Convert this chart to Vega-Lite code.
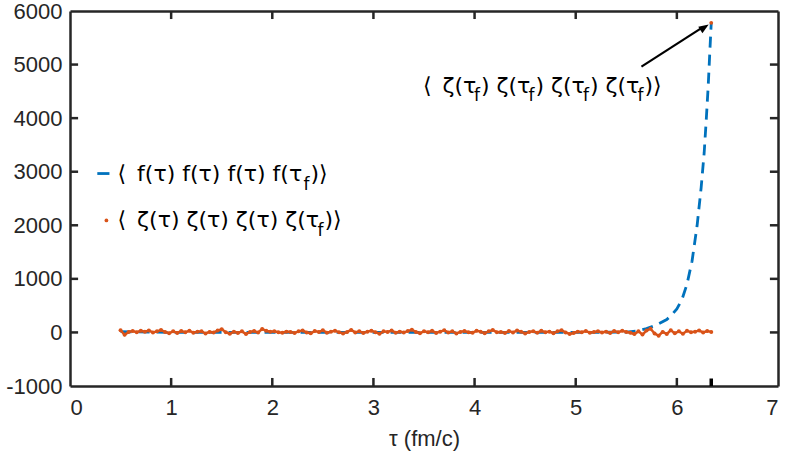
{
  "$schema": "https://vega.github.io/schema/vega-lite/v6.json",
  "width": 708,
  "height": 375,
  "autosize": {"type": "none"},
  "padding": {"left": 70, "top": 11, "right": 11, "bottom": 67},
  "background": "white",
  "config": {
    "view": {"stroke": null},
    "font": "Liberation Sans",
    "text": {"font": "DejaVu Sans", "fontSize": 22, "color": "black", "align": "left", "baseline": "middle"},
    "rule": {"color": "#262626", "strokeWidth": 2.5},
    "axis": {
      "grid": false,
      "domainColor": "#262626",
      "domainWidth": 2.5,
      "ticks": false,
      "tickSize": 0,
      "labelFont": "Liberation Sans",
      "labelFontSize": 22,
      "labelColor": "#262626",
      "labelExpr": "'' + datum.value",
      "titleFont": "Liberation Sans",
      "titleFontSize": 22,
      "titleFontWeight": "normal",
      "titleColor": "#262626"
    }
  },
  "datasets": {
    "fcorr": [
      {"t": 0.5, "v": 15}, {"t": 1.0, "v": 0}, {"t": 2.0, "v": 0}, {"t": 3.0, "v": 0},
      {"t": 4.0, "v": 0}, {"t": 5.0, "v": 0}, {"t": 5.5, "v": 5}, {"t": 5.6, "v": 25},
      {"t": 5.7, "v": 70}, {"t": 5.8, "v": 140}, {"t": 5.9, "v": 240}, {"t": 5.95, "v": 330},
      {"t": 6.0, "v": 440}, {"t": 6.05, "v": 610}, {"t": 6.1, "v": 900}, {"t": 6.15, "v": 1330},
      {"t": 6.2, "v": 1990}, {"t": 6.24, "v": 2700}, {"t": 6.27, "v": 3350}, {"t": 6.29, "v": 3950},
      {"t": 6.31, "v": 4600}, {"t": 6.325, "v": 5200}, {"t": 6.34, "v": 5780}
    ],
    "zeta": [
      {"t": 0.50, "v": 40}, {"t": 0.54, "v": -45}, {"t": 0.58, "v": 10}, {"t": 0.62, "v": 25},
      {"t": 0.66, "v": 5}, {"t": 0.70, "v": 30}, {"t": 0.74, "v": 15}, {"t": 0.78, "v": 35},
      {"t": 0.82, "v": 0}, {"t": 0.86, "v": 20}, {"t": 0.90, "v": 45}, {"t": 0.94, "v": 10},
      {"t": 0.98, "v": -15}, {"t": 1.02, "v": 20}, {"t": 1.06, "v": -10}, {"t": 1.10, "v": 25},
      {"t": 1.14, "v": 5}, {"t": 1.18, "v": 30}, {"t": 1.22, "v": -5}, {"t": 1.26, "v": 15},
      {"t": 1.30, "v": 20}, {"t": 1.34, "v": -20}, {"t": 1.38, "v": 10}, {"t": 1.42, "v": 0},
      {"t": 1.46, "v": 35}, {"t": 1.50, "v": 60}, {"t": 1.54, "v": 5}, {"t": 1.58, "v": -25},
      {"t": 1.62, "v": 15}, {"t": 1.66, "v": -10}, {"t": 1.70, "v": 20}, {"t": 1.74, "v": -30},
      {"t": 1.78, "v": 10}, {"t": 1.82, "v": 25}, {"t": 1.86, "v": 0}, {"t": 1.90, "v": 65},
      {"t": 1.94, "v": 30}, {"t": 1.98, "v": 15}, {"t": 2.02, "v": 20}, {"t": 2.06, "v": 5},
      {"t": 2.10, "v": -5}, {"t": 2.14, "v": 15}, {"t": 2.18, "v": 10}, {"t": 2.22, "v": -10},
      {"t": 2.26, "v": 20}, {"t": 2.30, "v": 35}, {"t": 2.34, "v": 0}, {"t": 2.38, "v": -15},
      {"t": 2.42, "v": 25}, {"t": 2.46, "v": 10}, {"t": 2.50, "v": 40}, {"t": 2.54, "v": -5},
      {"t": 2.58, "v": 15}, {"t": 2.62, "v": 30}, {"t": 2.66, "v": 5}, {"t": 2.70, "v": -20},
      {"t": 2.74, "v": 10}, {"t": 2.78, "v": 45}, {"t": 2.82, "v": 0}, {"t": 2.86, "v": 20},
      {"t": 2.90, "v": -10}, {"t": 2.94, "v": 15}, {"t": 2.98, "v": 30}, {"t": 3.02, "v": 5},
      {"t": 3.06, "v": -25}, {"t": 3.10, "v": 20}, {"t": 3.14, "v": 10}, {"t": 3.18, "v": 35},
      {"t": 3.22, "v": -5}, {"t": 3.26, "v": 15}, {"t": 3.30, "v": 0}, {"t": 3.34, "v": 25},
      {"t": 3.38, "v": 50}, {"t": 3.42, "v": 10}, {"t": 3.46, "v": -15}, {"t": 3.50, "v": 20},
      {"t": 3.54, "v": 5}, {"t": 3.58, "v": 30}, {"t": 3.62, "v": -10}, {"t": 3.66, "v": 15},
      {"t": 3.70, "v": 40}, {"t": 3.74, "v": 0}, {"t": 3.78, "v": 20}, {"t": 3.82, "v": -20},
      {"t": 3.86, "v": 10}, {"t": 3.90, "v": 25}, {"t": 3.94, "v": 5}, {"t": 3.98, "v": -5},
      {"t": 4.02, "v": 30}, {"t": 4.06, "v": 15}, {"t": 4.10, "v": -15}, {"t": 4.14, "v": 20},
      {"t": 4.18, "v": 45}, {"t": 4.22, "v": 5}, {"t": 4.26, "v": 10}, {"t": 4.30, "v": -10},
      {"t": 4.34, "v": 25}, {"t": 4.38, "v": 0}, {"t": 4.42, "v": 35}, {"t": 4.46, "v": 15},
      {"t": 4.50, "v": -20}, {"t": 4.54, "v": 10}, {"t": 4.58, "v": 20}, {"t": 4.62, "v": -5},
      {"t": 4.66, "v": 30}, {"t": 4.70, "v": 5}, {"t": 4.74, "v": 15}, {"t": 4.78, "v": -15},
      {"t": 4.82, "v": 20}, {"t": 4.86, "v": 40}, {"t": 4.90, "v": 0}, {"t": 4.94, "v": -30},
      {"t": 4.98, "v": -10}, {"t": 5.02, "v": 15}, {"t": 5.06, "v": 5}, {"t": 5.10, "v": 25},
      {"t": 5.14, "v": -5}, {"t": 5.18, "v": 10}, {"t": 5.22, "v": 20}, {"t": 5.26, "v": 0},
      {"t": 5.30, "v": 15}, {"t": 5.34, "v": -10}, {"t": 5.38, "v": 25}, {"t": 5.42, "v": 5},
      {"t": 5.46, "v": 30}, {"t": 5.50, "v": 10}, {"t": 5.54, "v": -5}, {"t": 5.58, "v": -30},
      {"t": 5.62, "v": 20}, {"t": 5.66, "v": -40}, {"t": 5.70, "v": 35}, {"t": 5.74, "v": 70},
      {"t": 5.78, "v": -20}, {"t": 5.82, "v": -60}, {"t": 5.86, "v": 10}, {"t": 5.90, "v": -30},
      {"t": 5.94, "v": 40}, {"t": 5.98, "v": -15}, {"t": 6.02, "v": 20}, {"t": 6.06, "v": -25},
      {"t": 6.10, "v": 30}, {"t": 6.14, "v": 5}, {"t": 6.18, "v": 15}, {"t": 6.22, "v": 35},
      {"t": 6.26, "v": 0}, {"t": 6.30, "v": 25}, {"t": 6.34, "v": 10}
    ],
    "peak": [{"t": 6.34, "v": 5780}],
    "one": [{}]
  },
  "layer": [
    {
      "data": {"name": "fcorr"},
      "mark": {"type": "line", "color": "#0072BD", "strokeWidth": 2.8, "strokeDash": [11, 7]},
      "encoding": {
        "x": {
          "field": "t", "type": "quantitative",
          "scale": {"domain": [0, 7], "nice": false},
          "axis": {"orient": "bottom", "values": [0, 1, 2, 3, 4, 5, 6, 7], "labelPadding": 11, "title": "τ (fm/c)", "titlePadding": 10}
        },
        "y": {
          "field": "v", "type": "quantitative",
          "scale": {"domain": [-1000, 6000], "nice": false},
          "axis": {"orient": "left", "values": [-1000, 0, 1000, 2000, 3000, 4000, 5000, 6000], "labelPadding": 8, "title": null}
        }
      }
    },
    {
      "data": {"name": "zeta"},
      "mark": {"type": "line", "color": "#D95319", "strokeWidth": 2.5},
      "encoding": {
        "x": {"field": "t", "type": "quantitative", "axis": null},
        "y": {"field": "v", "type": "quantitative", "axis": null}
      }
    },
    {
      "data": {"name": "zeta"},
      "mark": {"type": "point", "filled": true, "color": "#D95319", "size": 16, "opacity": 1},
      "encoding": {
        "x": {"field": "t", "type": "quantitative", "axis": null},
        "y": {"field": "v", "type": "quantitative", "axis": null}
      }
    },
    {
      "data": {"name": "peak"},
      "mark": {"type": "point", "filled": true, "color": "#D95319", "size": 14, "opacity": 1},
      "encoding": {
        "x": {"field": "t", "type": "quantitative", "axis": {"orient": "top", "labels": false, "title": null}},
        "y": {"field": "v", "type": "quantitative", "axis": {"orient": "right", "labels": false, "title": null}}
      }
    },
    {"data": {"name": "one"}, "mark": "rule", "encoding": {"x": {"datum": 1, "type": "quantitative", "axis": null}, "y": {"datum": -1000, "type": "quantitative", "axis": null}, "y2": {"datum": -850}}},
    {"data": {"name": "one"}, "mark": "rule", "encoding": {"x": {"datum": 2, "type": "quantitative", "axis": null}, "y": {"datum": -1000, "type": "quantitative", "axis": null}, "y2": {"datum": -850}}},
    {"data": {"name": "one"}, "mark": "rule", "encoding": {"x": {"datum": 3, "type": "quantitative", "axis": null}, "y": {"datum": -1000, "type": "quantitative", "axis": null}, "y2": {"datum": -850}}},
    {"data": {"name": "one"}, "mark": "rule", "encoding": {"x": {"datum": 4, "type": "quantitative", "axis": null}, "y": {"datum": -1000, "type": "quantitative", "axis": null}, "y2": {"datum": -850}}},
    {"data": {"name": "one"}, "mark": "rule", "encoding": {"x": {"datum": 5, "type": "quantitative", "axis": null}, "y": {"datum": -1000, "type": "quantitative", "axis": null}, "y2": {"datum": -850}}},
    {"data": {"name": "one"}, "mark": "rule", "encoding": {"x": {"datum": 6, "type": "quantitative", "axis": null}, "y": {"datum": -1000, "type": "quantitative", "axis": null}, "y2": {"datum": -850}}},
    {"data": {"name": "one"}, "mark": "rule", "encoding": {"x": {"datum": 1, "type": "quantitative", "axis": null}, "y": {"datum": 6000, "type": "quantitative", "axis": null}, "y2": {"datum": 5850}}},
    {"data": {"name": "one"}, "mark": "rule", "encoding": {"x": {"datum": 2, "type": "quantitative", "axis": null}, "y": {"datum": 6000, "type": "quantitative", "axis": null}, "y2": {"datum": 5850}}},
    {"data": {"name": "one"}, "mark": "rule", "encoding": {"x": {"datum": 3, "type": "quantitative", "axis": null}, "y": {"datum": 6000, "type": "quantitative", "axis": null}, "y2": {"datum": 5850}}},
    {"data": {"name": "one"}, "mark": "rule", "encoding": {"x": {"datum": 4, "type": "quantitative", "axis": null}, "y": {"datum": 6000, "type": "quantitative", "axis": null}, "y2": {"datum": 5850}}},
    {"data": {"name": "one"}, "mark": "rule", "encoding": {"x": {"datum": 5, "type": "quantitative", "axis": null}, "y": {"datum": 6000, "type": "quantitative", "axis": null}, "y2": {"datum": 5850}}},
    {"data": {"name": "one"}, "mark": "rule", "encoding": {"x": {"datum": 6, "type": "quantitative", "axis": null}, "y": {"datum": 6000, "type": "quantitative", "axis": null}, "y2": {"datum": 5850}}},
    {"data": {"name": "one"}, "mark": "rule", "encoding": {"y": {"datum": 0, "type": "quantitative", "axis": null}, "x": {"datum": 0, "type": "quantitative", "axis": null}, "x2": {"datum": 0.08}}},
    {"data": {"name": "one"}, "mark": "rule", "encoding": {"y": {"datum": 1000, "type": "quantitative", "axis": null}, "x": {"datum": 0, "type": "quantitative", "axis": null}, "x2": {"datum": 0.08}}},
    {"data": {"name": "one"}, "mark": "rule", "encoding": {"y": {"datum": 2000, "type": "quantitative", "axis": null}, "x": {"datum": 0, "type": "quantitative", "axis": null}, "x2": {"datum": 0.08}}},
    {"data": {"name": "one"}, "mark": "rule", "encoding": {"y": {"datum": 3000, "type": "quantitative", "axis": null}, "x": {"datum": 0, "type": "quantitative", "axis": null}, "x2": {"datum": 0.08}}},
    {"data": {"name": "one"}, "mark": "rule", "encoding": {"y": {"datum": 4000, "type": "quantitative", "axis": null}, "x": {"datum": 0, "type": "quantitative", "axis": null}, "x2": {"datum": 0.08}}},
    {"data": {"name": "one"}, "mark": "rule", "encoding": {"y": {"datum": 5000, "type": "quantitative", "axis": null}, "x": {"datum": 0, "type": "quantitative", "axis": null}, "x2": {"datum": 0.08}}},
    {"data": {"name": "one"}, "mark": "rule", "encoding": {"y": {"datum": 0, "type": "quantitative", "axis": null}, "x": {"datum": 7, "type": "quantitative", "axis": null}, "x2": {"datum": 6.92}}},
    {"data": {"name": "one"}, "mark": "rule", "encoding": {"y": {"datum": 1000, "type": "quantitative", "axis": null}, "x": {"datum": 7, "type": "quantitative", "axis": null}, "x2": {"datum": 6.92}}},
    {"data": {"name": "one"}, "mark": "rule", "encoding": {"y": {"datum": 2000, "type": "quantitative", "axis": null}, "x": {"datum": 7, "type": "quantitative", "axis": null}, "x2": {"datum": 6.92}}},
    {"data": {"name": "one"}, "mark": "rule", "encoding": {"y": {"datum": 3000, "type": "quantitative", "axis": null}, "x": {"datum": 7, "type": "quantitative", "axis": null}, "x2": {"datum": 6.92}}},
    {"data": {"name": "one"}, "mark": "rule", "encoding": {"y": {"datum": 4000, "type": "quantitative", "axis": null}, "x": {"datum": 7, "type": "quantitative", "axis": null}, "x2": {"datum": 6.92}}},
    {"data": {"name": "one"}, "mark": "rule", "encoding": {"y": {"datum": 5000, "type": "quantitative", "axis": null}, "x": {"datum": 7, "type": "quantitative", "axis": null}, "x2": {"datum": 6.92}}},
    {
      "data": {"name": "one"},
      "mark": {"type": "rule", "color": "black", "strokeWidth": 3.5},
      "encoding": {
        "x": {"datum": 6.34, "type": "quantitative", "axis": null},
        "y": {"datum": -1000, "type": "quantitative", "axis": null},
        "y2": {"datum": -860}
      }
    },
    {
      "data": {"name": "one"},
      "mark": {"type": "rule", "color": "black", "strokeWidth": 2.2},
      "encoding": {
        "x": {"datum": 5.65, "type": "quantitative", "axis": null},
        "y": {"datum": 4963, "type": "quantitative", "axis": null},
        "x2": {"datum": 6.25},
        "y2": {"datum": 5690}
      }
    },
    {
      "data": {"name": "one"},
      "mark": {"type": "point", "shape": "M0,0 L-0.38,1 L0.38,1 Z", "filled": true, "color": "black", "size": 400, "angle": 57, "opacity": 1},
      "encoding": {
        "x": {"datum": 6.315, "type": "quantitative", "axis": null},
        "y": {"datum": 5746, "type": "quantitative", "axis": null}
      }
    },
    {
      "data": {"name": "one"},
      "mark": {"type": "text", "text": "⟨\u2002ζ(τ"},
      "encoding": {"x": {"datum": 3.49, "type": "quantitative", "axis": null}, "y": {"datum": 4608, "type": "quantitative", "axis": null}}
    },
    {
      "data": {"name": "one"},
      "mark": {"type": "text", "text": "f", "fontSize": 17, "dx": 51, "dy": 10},
      "encoding": {"x": {"datum": 3.49, "type": "quantitative", "axis": null}, "y": {"datum": 4608, "type": "quantitative", "axis": null}}
    },
    {
      "data": {"name": "one"},
      "mark": {"type": "text", "text": ") ζ(τ", "dx": 58},
      "encoding": {"x": {"datum": 3.49, "type": "quantitative", "axis": null}, "y": {"datum": 4608, "type": "quantitative", "axis": null}}
    },
    {
      "data": {"name": "one"},
      "mark": {"type": "text", "text": "f", "fontSize": 17, "dx": 105.5, "dy": 10},
      "encoding": {"x": {"datum": 3.49, "type": "quantitative", "axis": null}, "y": {"datum": 4608, "type": "quantitative", "axis": null}}
    },
    {
      "data": {"name": "one"},
      "mark": {"type": "text", "text": ") ζ(τ", "dx": 112.5},
      "encoding": {"x": {"datum": 3.49, "type": "quantitative", "axis": null}, "y": {"datum": 4608, "type": "quantitative", "axis": null}}
    },
    {
      "data": {"name": "one"},
      "mark": {"type": "text", "text": "f", "fontSize": 17, "dx": 160, "dy": 10},
      "encoding": {"x": {"datum": 3.49, "type": "quantitative", "axis": null}, "y": {"datum": 4608, "type": "quantitative", "axis": null}}
    },
    {
      "data": {"name": "one"},
      "mark": {"type": "text", "text": ") ζ(τ", "dx": 167},
      "encoding": {"x": {"datum": 3.49, "type": "quantitative", "axis": null}, "y": {"datum": 4608, "type": "quantitative", "axis": null}}
    },
    {
      "data": {"name": "one"},
      "mark": {"type": "text", "text": "f", "fontSize": 17, "dx": 214.5, "dy": 10},
      "encoding": {"x": {"datum": 3.49, "type": "quantitative", "axis": null}, "y": {"datum": 4608, "type": "quantitative", "axis": null}}
    },
    {
      "data": {"name": "one"},
      "mark": {"type": "text", "text": ")⟩", "dx": 221.5},
      "encoding": {"x": {"datum": 3.49, "type": "quantitative", "axis": null}, "y": {"datum": 4608, "type": "quantitative", "axis": null}}
    },
    {
      "data": {"name": "one"},
      "mark": {"type": "rule", "color": "#0072BD", "strokeWidth": 2.8},
      "encoding": {
        "x": {"datum": 0.27, "type": "quantitative", "axis": null},
        "x2": {"datum": 0.39},
        "y": {"datum": 2966, "type": "quantitative", "axis": null}
      }
    },
    {
      "data": {"name": "one"},
      "mark": {"type": "point", "filled": true, "color": "#D95319", "size": 14, "opacity": 1},
      "encoding": {
        "x": {"datum": 0.36, "type": "quantitative", "axis": null},
        "y": {"datum": 2090, "type": "quantitative", "axis": null}
      }
    },
    {
      "data": {"name": "one"},
      "mark": {"type": "text", "text": "⟨\u2002f(τ) f(τ) f(τ) f(τ"},
      "encoding": {"x": {"datum": 0.47, "type": "quantitative", "axis": null}, "y": {"datum": 2966, "type": "quantitative", "axis": null}}
    },
    {
      "data": {"name": "one"},
      "mark": {"type": "text", "text": "f", "fontSize": 17, "dx": 186, "dy": 11},
      "encoding": {"x": {"datum": 0.47, "type": "quantitative", "axis": null}, "y": {"datum": 2966, "type": "quantitative", "axis": null}}
    },
    {
      "data": {"name": "one"},
      "mark": {"type": "text", "text": ")⟩", "dx": 193},
      "encoding": {"x": {"datum": 0.47, "type": "quantitative", "axis": null}, "y": {"datum": 2966, "type": "quantitative", "axis": null}}
    },
    {
      "data": {"name": "one"},
      "mark": {"type": "text", "text": "⟨\u2002ζ(τ) ζ(τ) ζ(τ) ζ(τ"},
      "encoding": {"x": {"datum": 0.47, "type": "quantitative", "axis": null}, "y": {"datum": 2090, "type": "quantitative", "axis": null}}
    },
    {
      "data": {"name": "one"},
      "mark": {"type": "text", "text": "f", "fontSize": 17, "dx": 200, "dy": 11},
      "encoding": {"x": {"datum": 0.47, "type": "quantitative", "axis": null}, "y": {"datum": 2090, "type": "quantitative", "axis": null}}
    },
    {
      "data": {"name": "one"},
      "mark": {"type": "text", "text": ")⟩", "dx": 207},
      "encoding": {"x": {"datum": 0.47, "type": "quantitative", "axis": null}, "y": {"datum": 2090, "type": "quantitative", "axis": null}}
    }
  ]
}
